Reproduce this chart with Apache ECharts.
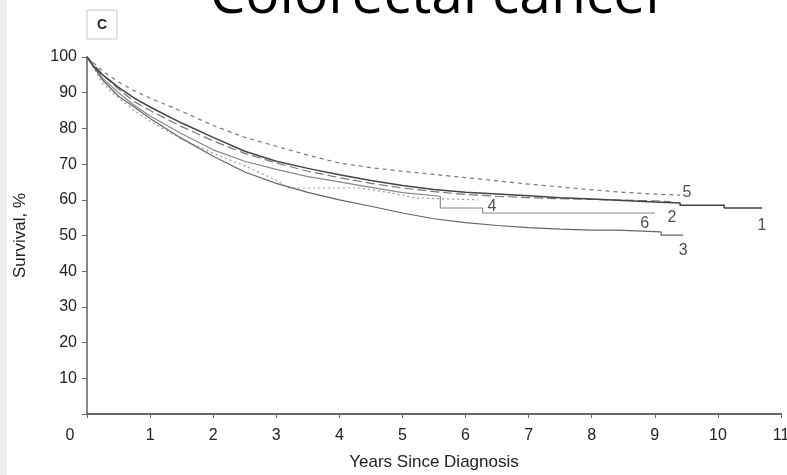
<!DOCTYPE html>
<html>
<head>
<meta charset="utf-8">
<script src="https://cdn.jsdelivr.net/npm/echarts@6/dist/echarts.min.js"></script>
<style>
html,body{margin:0;padding:0;background:#fff;overflow:hidden;}
#main{width:787px;height:475px;}
</style>
</head>
<body>
<div id="main"></div>
<script>
// survival curves, years since diagnosis vs survival %
var years1 = [0, 0.1, 0.25, 0.5, 0.75, 1, 1.5, 2, 2.5, 3, 3.5, 4, 4.5, 5, 5.5, 6, 6.5, 7, 7.5, 8, 8.5, 9, 9.4, 9.4, 10.1, 10.1, 10.7];
var surv1  = [100, 97.5, 95, 91.5, 88.5, 86, 81.5, 77.5, 73.6, 70.8, 68.8, 67, 65.4, 64, 62.9, 62.1, 61.6, 61.1, 60.6, 60.2, 59.8, 59.4, 59.1, 58.5, 58.5, 57.7, 57.7];

var years2 = [0, 0.25, 0.5, 0.75, 1, 1.5, 2, 2.5, 3, 3.5, 4, 4.5, 5, 5.5, 6, 6.5, 7, 7.5, 8, 8.5, 9, 9.25];
var surv2  = [100, 95, 91, 87.5, 85, 80.5, 76.5, 73, 70.3, 68, 66.2, 64.6, 63.3, 62.3, 61.5, 61, 60.6, 60.3, 60.1, 59.9, 59.7, 59.5];

var years3 = [0, 0.25, 0.5, 0.75, 1, 1.5, 2, 2.5, 3, 3.5, 4, 4.5, 5, 5.5, 6, 6.5, 7, 7.5, 8, 8.4, 8.4, 9.1, 9.1, 9.45];
var surv3  = [100, 93.5, 89, 86, 82.8, 77.2, 72.2, 67.8, 64.6, 62.1, 60, 58.2, 56.3, 54.7, 53.6, 52.8, 52.2, 51.8, 51.5, 51.5, 51, 51, 50.1, 50.1];

var years4 = [0, 0.25, 0.5, 0.75, 1, 1.5, 2, 2.5, 3, 3.2, 4.3, 4.8, 5.2, 6.2];
var surv4  = [100, 92.5, 88.5, 85, 82, 77, 73, 69.5, 65.5, 63.3, 63.3, 62, 60.5, 60];

var years5 = [0, 0.25, 0.5, 0.75, 1, 1.5, 2, 2.5, 3, 3.5, 4, 4.5, 5, 5.5, 6, 6.5, 7, 7.5, 8, 8.5, 9, 9.4];
var surv5  = [100, 96, 93, 90.5, 88.5, 84.8, 80.8, 77.5, 75, 72.5, 70.3, 69, 68, 67.1, 66.2, 65.3, 64.4, 63.6, 62.8, 62.1, 61.6, 61.3];

var years6 = [0, 0.25, 0.5, 0.75, 1, 1.5, 2, 2.5, 3, 3.5, 4, 4.5, 5, 5.6, 5.6, 6.27, 6.27, 9.0];
var surv6  = [100, 94, 90, 86.5, 83.5, 78.5, 74, 70.8, 68.5, 66.5, 65, 63.5, 62, 61, 57.7, 57.7, 56.3, 56.3];

// curve number labels [years, survival]
var labelNames = ['5', '2', '1', '6', '3', '4'];
var labelYears = [9.51, 9.27, 10.7, 8.84, 9.45, 6.42];
var labelSurv  = [61.9, 54.9, 52.9, 53.2, 45.9, 58];

var xTicks = [0, 1, 2, 3, 4, 5, 6, 7, 8, 9, 10, 11];
var yTicks = [10, 20, 30, 40, 50, 60, 70, 80, 90, 100];

var FONT = "'Liberation Sans Narrow', 'Liberation Sans', sans-serif";

function zip(xs, ys){
    var out = [];
    for(var i=0;i<xs.length;i++){
        out.push([xs[i], ys[i]]);
    }
    return out;
}

function curve(name, xs, ys, color, type, width){
    return {
        name: name,
        type: 'line',
        data: zip(xs, ys),
        showSymbol: false,
        silent: true,
        lineStyle: {color: color, width: width, type: type},
        z: 3
    };
}

var chart = echarts.init(document.getElementById('main'));

var labelData = [];
for(var i=0;i<labelNames.length;i++){
    labelData.push({value: [labelYears[i], labelSurv[i]], name: labelNames[i]});
}

var option = {
    backgroundColor: '#fff',
    animation: false,
    grid: {left: 87, right: 6, top: 57, bottom: 61, outerBoundsMode: 'none', containLabel: false},
    graphic: [
        {type: 'rect', left: 0, top: 0, shape: {width: 7, height: 475}, style: {fill: '#efefef'}},
        {type: 'text', x: 439, y: -3, style: {
            text: 'Colorectal cancer', fill: '#000', font: "57px 'Open Sans', sans-serif",
            align: 'center', verticalAlign: 'middle'}},
        {type: 'rect', shape: {x: 87, y: 10, width: 30, height: 29}, style: {fill: '#fff', stroke: '#c8c8c8', lineWidth: 1}},
        {type: 'text', x: 102, y: 25, style: {text: 'C', fill: '#223', font: "bold 14px " + FONT, align: 'center', verticalAlign: 'middle'}}
    ],
    xAxis: {
        type: 'value',
        min: 0, max: 11, interval: 1,
        name: 'Years Since Diagnosis',
        nameLocation: 'middle',
        nameGap: 40,
        nameTextStyle: {color: '#222', fontSize: 17, fontFamily: FONT},
        axisLine: {onZero: false, lineStyle: {color: '#666', width: 2}},
        axisTick: {show: true, length: 4, inside: false, lineStyle: {color: '#666'}},
        splitLine: {show: false},
        axisLabel: {
            color: '#222', fontSize: 16, fontFamily: FONT, margin: 14,
            formatter: function(v){
                if(xTicks.indexOf(v) < 0) return '';
                return v === 0 ? '{z|0}' : String(v);
            },
            rich: {z: {padding: [0, 34, 0, 0], fontSize: 16, fontFamily: FONT, color: '#222'}}
        }
    },
    yAxis: {
        type: 'value',
        min: 0, max: 100, interval: 10,
        name: 'Survival, %',
        nameLocation: 'middle',
        nameGap: 58,
        nameRotate: 90,
        nameTextStyle: {color: '#222', fontSize: 17, fontFamily: FONT},
        axisLine: {show: true, lineStyle: {color: '#888', width: 2}},
        axisTick: {show: true, length: 5, lineStyle: {color: '#666'}},
        splitLine: {show: false},
        axisLabel: {
            color: '#222', fontSize: 16, fontFamily: FONT, margin: 10,
            formatter: function(v){ return yTicks.indexOf(v) < 0 ? '' : String(v); }
        }
    },
    series: [
        curve('5', years5, surv5, '#777', [4, 4], 1.2),
        curve('2', years2, surv2, '#777', [9, 4], 1.2),
        curve('4', years4, surv4, '#999', [2, 3], 1.2),
        curve('6', years6, surv6, '#888', 'solid', 1.2),
        curve('3', years3, surv3, '#666', 'solid', 1.2),
        curve('1', years1, surv1, '#444', 'solid', 1.5),
        {
            type: 'scatter',
            data: labelData,
            symbolSize: 0,
            silent: true,
            label: {
                show: true, position: 'inside',
                formatter: '{b}',
                color: '#223', fontSize: 16, fontFamily: FONT
            },
            z: 5
        }
    ]
};

chart.setOption(option);
</script>
</body>
</html>
